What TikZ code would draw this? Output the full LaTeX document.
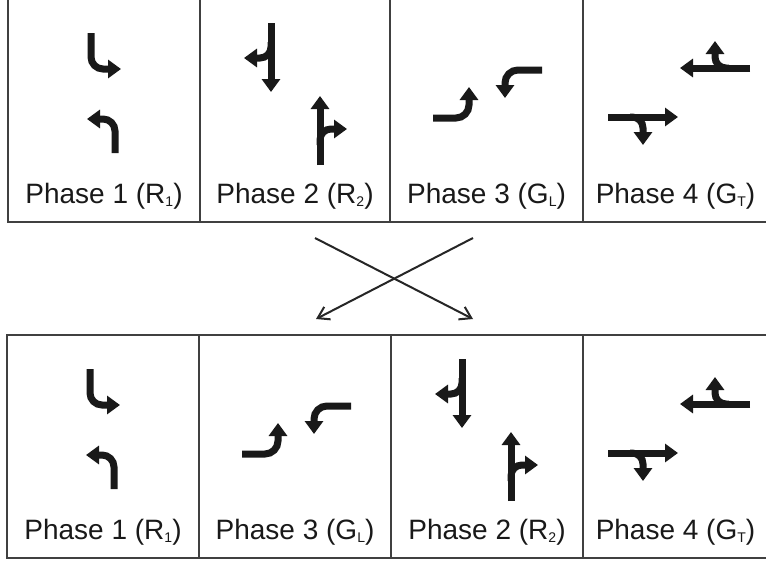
\documentclass[tikz,border=0pt]{standalone}
\usepackage{fontspec}
\setmainfont{Liberation Sans}
\usetikzlibrary{arrows.meta}

\newcommand{\phsub}[1]{\raisebox{-3pt}{\fontsize{14}{14}\selectfont #1}}

\begin{document}
\begin{tikzpicture}[x=1pt,y=-1pt,
  cell/.style={draw=black!75,line width=1.5pt,outer sep=0pt,inner sep=0pt,minimum height=223pt},
  lane/.style={line width=7pt,black!90,-{Triangle[length=13pt,width=18pt]}},
  lbl/.style={anchor=base,font=\fontsize{28}{32}\selectfont,text=black!90},
  swap/.style={line width=2pt,black!85,-{Straight Barb[length=11pt,width=14pt]}},
  phaseone/.pic={
    \draw[lane,rounded corners=12pt] (83,34) -- (83,70) -- (113,70);
    \draw[lane,rounded corners=12pt] (107,154) -- (107,120) -- (79,120);
  },
  phasetwo/.pic={
    \draw[lane] (71,24) -- (71,93);
    \draw[lane,rounded corners=11pt] (71,43) -- (71,59) -- (44,59);
    \draw[lane] (120,166) -- (120,97);
    \draw[lane,rounded corners=11pt] (120,146) -- (120,130) -- (147,130);
  },
  phasethree/.pic={
    \draw[lane,rounded corners=13pt] (43,119) -- (79,119) -- (79,88);
    \draw[lane,rounded corners=13pt] (152,71) -- (115,71) -- (115,99);
  },
  phasefour/.pic={
    \draw[lane] (167,69) -- (97,69);
    \draw[lane,rounded corners=11pt] (146,69) -- (132,69) -- (132,42);
    \draw[lane] (25,118) -- (95,118);
    \draw[lane,rounded corners=11pt] (47,118) -- (60,118) -- (60,146);
  }]
  \useasboundingbox (0,0) rectangle (766,562);
  \fill[white] (0,0) rectangle (766,562);

  \node[cell,minimum width=192pt] (c1) at (104,110.5) {};
  \node[cell,minimum width=190pt] (c2) at (295,110.5) {};
  \node[cell,minimum width=193pt] (c3) at (486.5,110.5) {};
  \node[cell,minimum width=185pt] (c4) at (675.5,110.5) {};
  \pic at (c1.north west) {phaseone};
  \pic at (c2.north west) {phasetwo};
  \pic at (c3.north west) {phasethree};
  \pic at (c4.north west) {phasefour};
  \node[lbl] (l1) at ([yshift=19pt]c1.south) {Phase 1 (R\phsub{1})};
  \node[lbl] (l2) at ([yshift=19pt]c2.south) {Phase 2 (R\phsub{2})};
  \node[lbl] (l3) at ([yshift=19pt]c3.south) {Phase 3 (G\phsub{L})};
  \node[lbl] (l4) at ([yshift=19pt]c4.south) {Phase 4 (G\phsub{T})};

  \coordinate (a2) at (315,238);
  \coordinate (a3) at (473,238);
  \coordinate (b2) at (316,319);
  \coordinate (b3) at (473,319);
  \draw[swap] (a2) -- (b3);
  \draw[swap] (a3) -- (b2);

  \node[cell,minimum width=192pt] (d1) at (103,446.5) {};
  \node[cell,minimum width=192pt] (d2) at (295,446.5) {};
  \node[cell,minimum width=192pt] (d3) at (487,446.5) {};
  \node[cell,minimum width=185pt] (d4) at (675.5,446.5) {};
  \pic at (d1.north west) {phaseone};
  \pic at (d2.north west) {phasethree};
  \pic at (d3.north west) {phasetwo};
  \pic at (d4.north west) {phasefour};
  \node[lbl] (m1) at ([yshift=19pt]d1.south) {Phase 1 (R\phsub{1})};
  \node[lbl] (m2) at ([yshift=19pt]d2.south) {Phase 3 (G\phsub{L})};
  \node[lbl] (m3) at ([yshift=19pt]d3.south) {Phase 2 (R\phsub{2})};
  \node[lbl] (m4) at ([yshift=19pt]d4.south) {Phase 4 (G\phsub{T})};
\end{tikzpicture}
\end{document}
